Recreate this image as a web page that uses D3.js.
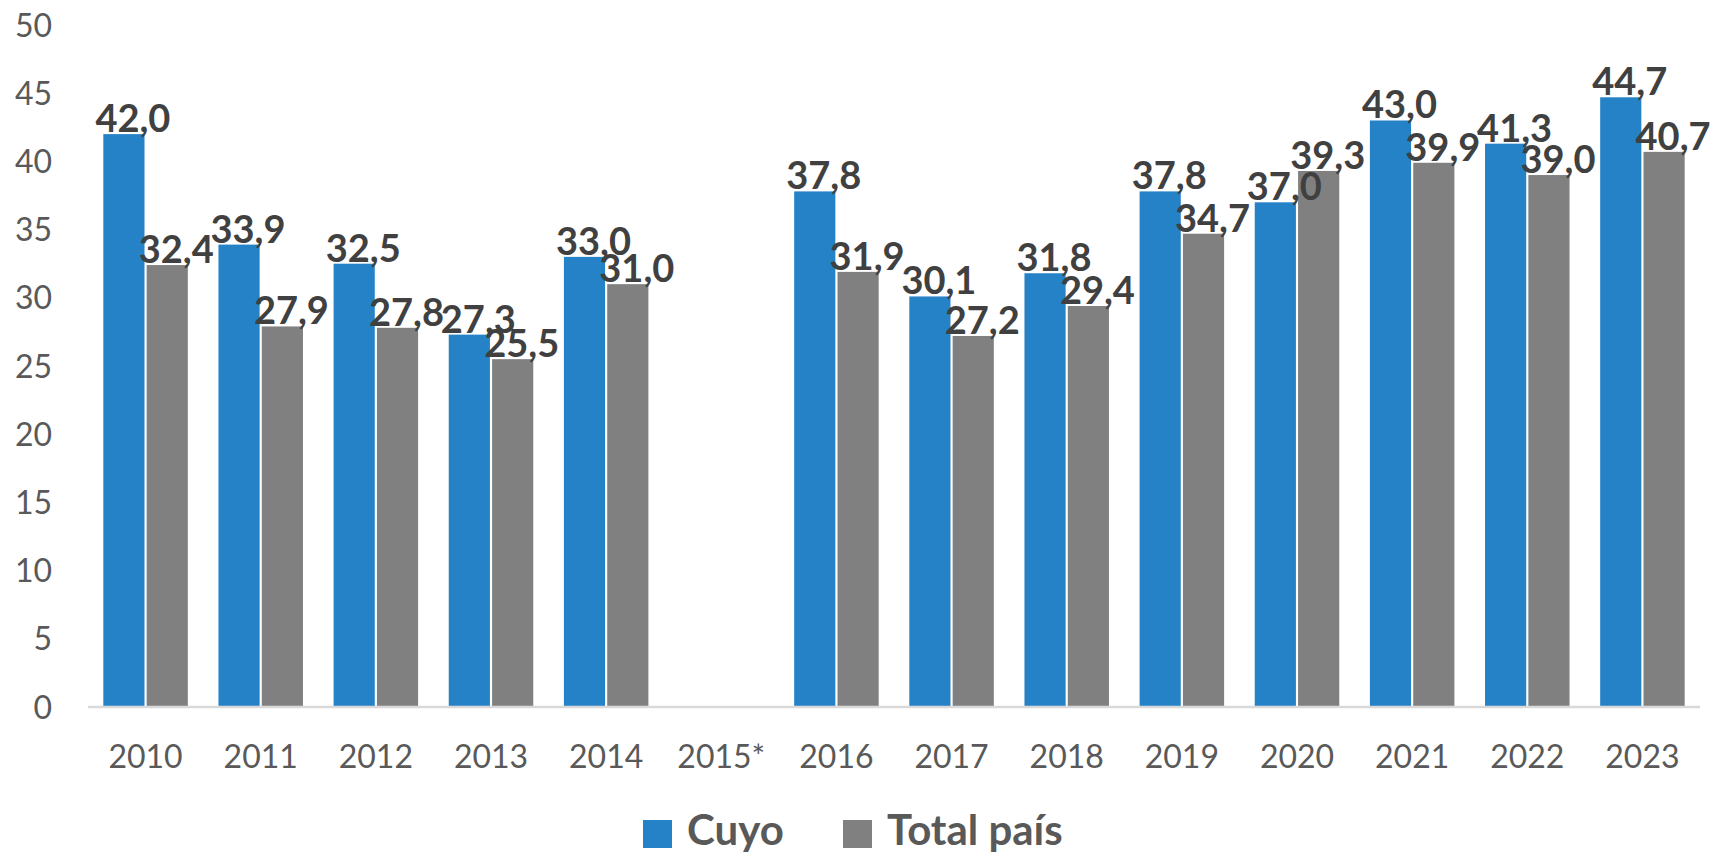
<!DOCTYPE html>
<html>
<head>
<meta charset="utf-8">
<script src="https://cdn.jsdelivr.net/npm/d3@7"></script>
<style>
  body { margin: 0; background: #fff; }
  text { font-family: Lato, "Open Sans", sans-serif; }
</style>
</head>
<body>
<div id="chart"></div>
<script>
// data
var years = ["2010", "2011", "2012", "2013", "2014", "2015*", "2016", "2017", "2018", "2019", "2020", "2021", "2022", "2023"];
var cuyo = [42.0, 33.9, 32.5, 27.3, 33.0, null, 37.8, 30.1, 31.8, 37.8, 37.0, 43.0, 41.3, 44.7];
var totalPais = [32.4, 27.9, 27.8, 25.5, 31.0, null, 31.9, 27.2, 29.4, 34.7, 39.3, 39.9, 39.0, 40.7];
var seriesNames = ["Cuyo", "Total país"];
var colors = ["#2682c7", "#808080"];
var yTicks = [0, 5, 10, 15, 20, 25, 30, 35, 40, 45, 50];

var W = 1716, H = 856;
var margin = {left: 88, right: 16, top: 25, bottom: 149};
var plotRight = W - margin.right, plotBottom = H - margin.bottom;

var svg = d3.select("#chart")
  .append("svg")
  .attr("width", W)
  .attr("height", H);

// scales
var x = d3.scaleBand()
  .domain(years)
  .range([margin.left, plotRight])
  .paddingInner(0.266)
  .paddingOuter(0.133);

var xSub = d3.scaleBand()
  .domain(seriesNames)
  .range([0, x.bandwidth()])
  .paddingInner(0.05);

var y = d3.scaleLinear()
  .domain([0, 50])
  .range([plotBottom, margin.top]);

// y tick labels
svg.append("g")
  .selectAll("text")
  .data(yTicks)
  .enter()
  .append("text")
  .attr("x", 52)
  .attr("y", function(d) { return y(d); })
  .attr("dy", "0.36em")
  .attr("text-anchor", "end")
  .style("font-size", "32px")
  .style("fill", "#595959")
  .text(function(d) { return d; });

// bars
var data = [];
years.forEach(function(yr, i) {
  data.push({ year: yr, s: seriesNames[0], v: cuyo[i], c: colors[0] });
  data.push({ year: yr, s: seriesNames[1], v: totalPais[i], c: colors[1] });
});
data = data.filter(function(d) { return d.v != null; });

svg.append("g")
  .selectAll("rect")
  .data(data)
  .enter()
  .append("rect")
  .attr("x", function(d) { return x(d.year) + xSub(d.s); })
  .attr("y", function(d) { return y(d.v); })
  .attr("width", xSub.bandwidth())
  .attr("height", function(d) { return y(0) - y(d.v); })
  .attr("fill", function(d) { return d.c; });

// x axis line
svg.append("line")
  .attr("x1", margin.left)
  .attr("x2", plotRight)
  .attr("y1", y(0))
  .attr("y2", y(0))
  .attr("stroke", "#d9d9d9")
  .attr("stroke-width", 2.5);

// x labels
svg.append("g")
  .selectAll("text")
  .data(years)
  .enter()
  .append("text")
  .attr("x", function(d) { return x(d) + x.bandwidth() / 2; })
  .attr("y", 768)
  .attr("text-anchor", "middle")
  .style("font-size", "32px")
  .style("fill", "#595959")
  .text(function(d) { return d; });

// value labels
var fmt = function(v) { return v.toFixed(1).replace(".", ","); };
svg.append("g")
  .selectAll("text")
  .data(data)
  .enter()
  .append("text")
  .attr("x", function(d) { return x(d.year) + xSub(d.s) + xSub.bandwidth() / 2 + 9; })
  .attr("y", function(d) { return y(d.v) - 2; })
  .attr("text-anchor", "middle")
  .style("font-size", "38px")
  .style("font-weight", "bold")
  .style("fill", "#404040")
  .text(function(d) { return fmt(d.v); });

// legend
var legend = svg.append("g");
var legX = [643, 843];
seriesNames.forEach(function(name, i) {
  legend.append("rect")
    .attr("x", legX[i])
    .attr("y", 820)
    .attr("width", 29)
    .attr("height", 28)
    .attr("fill", colors[i]);
  legend.append("text")
    .attr("x", legX[i] + 44)
    .attr("y", 845)
    .style("font-size", "42px")
    .style("font-weight", "bold")
    .style("fill", "#595959")
    .text(name);
});
</script>
</body>
</html>
